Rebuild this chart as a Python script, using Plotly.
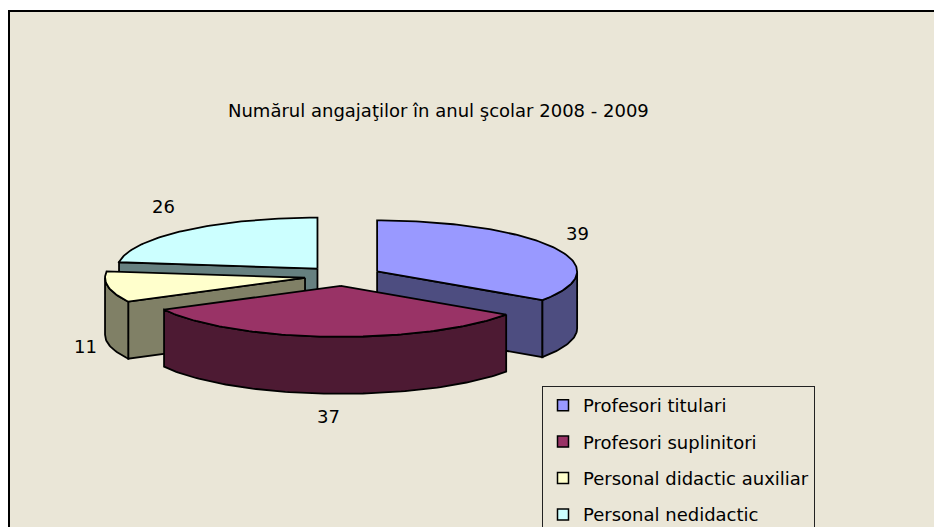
import numpy as np
import plotly.graph_objects as go

# ---- data ----
categories = ["Profesori titulari", "Profesori suplinitori",
              "Personal didactic auxiliar", "Personal nedidactic"]
values = [39, 37, 11, 26]
title_text = "Numărul angajaţilor în anul şcolar 2008 - 2009"

# ---- style ----
top_colors = ["#9999FF", "#993366", "#FFFFCC", "#CCFFFF"]
side_colors = ["#4D4D80", "#4D1A33", "#808066", "#668080"]
BG = "#EAE6D7"
FONT = "DejaVu Sans"

W, H = 934, 527
CX, CY = 343, 276          # pie centre (pixel-like axis units)
RX, RY = 200, 51           # ellipse radii
DEPTH = 57                 # thickness of the 3D pie
EXPLODE = 0.193            # explosion (fraction of radius)
label_nudge = [(6, 0), (0, -8), (-3, 44), (-8, -1)]


def pt(cx, cy, ang, r=1.0):
    a = np.radians(ang)
    return cx + RX * r * np.sin(a), cy - RY * r * np.cos(a)


def arc(cx, cy, a0, a1, n=80):
    angs = np.linspace(a0, a1, max(2, int(n * (a1 - a0) / 90) + 2))
    xs = cx + RX * np.sin(np.radians(angs))
    ys = cy - RY * np.cos(np.radians(angs))
    return list(xs), list(ys)


fig = go.Figure()
total = float(sum(values))
bounds = np.concatenate([[0], np.cumsum(values) / total * 360.0])

slices = []
for i, v in enumerate(values):
    a0, a1 = bounds[i], bounds[i + 1]
    mid = (a0 + a1) / 2
    sx, sy = pt(CX, CY, mid, EXPLODE)
    slices.append((i, a0, a1, mid, sx, sy))

line = dict(color="black", width=1.8)


def poly(xs, ys, color):
    fig.add_trace(go.Scatter(x=xs + [xs[0]], y=ys + [ys[0]], mode="lines",
                             fill="toself", fillcolor=color, line=line,
                             hoverinfo="skip", showlegend=False))


# back-to-front
for (i, a0, a1, mid, sx, sy) in sorted(slices, key=lambda s: s[5]):
    side = side_colors[i]
    # radial walls
    for ang, nrm in ((a0, a0 - 90), (a1, a1 + 90)):
        if np.cos(np.radians(nrm)) < -1e-6:
            px, py = pt(sx, sy, ang)
            poly([sx, px, px, sx], [sy, py, py + DEPTH, sy + DEPTH], side)
    # curved outer side (front half only)
    b0, b1 = max(a0, 90.0), min(a1, 270.0)
    if b1 > b0:
        xs, ys = arc(sx, sy, b0, b1)
        poly(xs + xs[::-1], ys + [y + DEPTH for y in ys[::-1]], side)
    # top face
    xs, ys = arc(sx, sy, a0, a1)
    poly([sx] + xs, [sy] + ys, top_colors[i])

# legend entries
for i, c in enumerate(categories):
    fig.add_trace(go.Scatter(x=[None], y=[None], mode="markers", name=c,
                             legendgroup=c,
                             marker=dict(symbol="square", size=11,
                                         color=top_colors[i],
                                         line=dict(color="black", width=1.5))))

annotations = [dict(x=438, y=110, xref="x", yref="y", text=title_text,
                    showarrow=False, font=dict(family=FONT, size=18, color="black"))]
for (i, a0, a1, mid, sx, sy) in slices:
    c, s = np.cos(np.radians(mid)), np.sin(np.radians(mid))
    lx = sx + RX * 1.1 * s + label_nudge[i][0]
    ly = sy - RY * 1.6 * c + DEPTH * max(0.0, -c) + label_nudge[i][1]
    annotations.append(dict(x=lx, y=ly, xref="x", yref="y", text=str(values[i]),
                            showarrow=False,
                            font=dict(family=FONT, size=18, color="black")))

fig.update_layout(
    width=W, height=H,
    margin=dict(l=0, r=0, t=0, b=0, pad=0, autoexpand=False),
    paper_bgcolor="white", plot_bgcolor="rgba(0,0,0,0)",
    xaxis=dict(range=[0, W], visible=False, fixedrange=True),
    yaxis=dict(range=[H, 0], visible=False, fixedrange=True),
    shapes=[dict(type="rect", xref="x", yref="y", x0=9, y0=11, x1=W + 30, y1=H + 30,
                 fillcolor=BG, line=dict(color="black", width=2), layer="below")],
    legend=dict(x=542 / W, y=1 - 386 / H, xanchor="left", yanchor="top",
                bgcolor=BG, bordercolor="#222222", borderwidth=1,
                font=dict(family=FONT, size=18, color="black"),
                tracegroupgap=10, itemsizing="trace", traceorder="grouped"),
    annotations=annotations,
    showlegend=True,
)

fig.write_html("out.html",
               config={"displayModeBar": False, "staticPlot": True},
               post_script="document.body.style.margin='0';"
                           "document.body.style.overflow='hidden';")
